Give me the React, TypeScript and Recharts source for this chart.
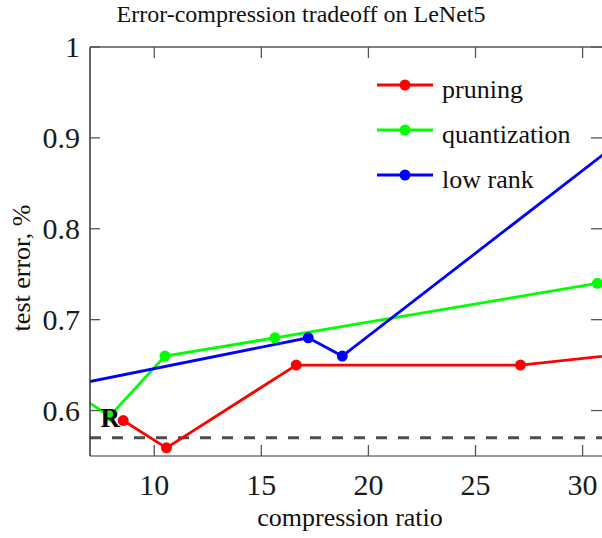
import React from 'react';
import { LineChart, Line, XAxis, YAxis, ReferenceLine, ReferenceDot, Legend } from 'recharts';

// ---- data ----
const pruningX = [8.55, 10.57, 16.63, 27.1, 35];
const pruningY = [0.589, 0.559, 0.65, 0.65, 0.67];
const quantizationX = [6, 7.93, 10.5, 15.63, 30.69];
const quantizationY = [0.623, 0.594, 0.66, 0.68, 0.74];
const lowRankX = [5, 17.19, 18.78, 35];
const lowRankY = [0.6226, 0.68, 0.66, 0.955];
const xTicks = [10, 15, 20, 25, 30];
const yTicks = [0.6, 0.7, 0.8, 0.9, 1];
const referenceError = 0.57;
const referencePoint = { x: 7.94, y: 0.592, label: 'R' };
const seriesNames = ['pruning', 'quantization', 'low rank'];
const seriesColors = ['#ff0000', '#00ff00', '#0000ff'];

const zip = (xs: number[], ys: number[]) => xs.map((x, i) => ({ x, y: ys[i] }));
const seriesData = [zip(pruningX, pruningY), zip(quantizationX, quantizationY), zip(lowRankX, lowRankY)];
const series = seriesNames.map((name, i) => ({ name, color: seriesColors[i], data: seriesData[i] }));

// ---- layout ----
const FONT = '"Liberation Serif", "Times New Roman", serif';
const W = 620;
const H = 538;
const PLOT_LEFT = 90;
const PLOT_TOP = 47;
const PLOT_RIGHT = 604;
const PLOT_BOTTOM = 456;

const XTick = (props: any) => {
  const { x, payload } = props;
  return (
    <g>
      <line x1={x} x2={x} y1={PLOT_BOTTOM} y2={PLOT_BOTTOM - 11} stroke="#555" strokeWidth={1.3} />
      <line x1={x} x2={x} y1={PLOT_TOP} y2={PLOT_TOP + 11} stroke="#555" strokeWidth={1.3} />
      <text
        x={x}
        y={PLOT_BOTTOM + 39}
        textAnchor="middle"
        fontSize={30}
        fontFamily={FONT}
        style={{ fontFamily: FONT }}
        fill="#1a1a1a"
      >
        {payload.value}
      </text>
    </g>
  );
};

const YTick = (props: any) => {
  const { y, payload } = props;
  const v = payload.value;
  return (
    <g>
      <line x1={PLOT_LEFT} x2={PLOT_LEFT + 10} y1={y} y2={y} stroke="#555" strokeWidth={1.3} />
      <line x1={PLOT_RIGHT - 13} x2={PLOT_RIGHT} y1={y} y2={y} stroke="#555" strokeWidth={1.3} />
      <text
        x={PLOT_LEFT - 10}
        y={y + 10}
        textAnchor="end"
        fontSize={30}
        fontFamily={FONT}
        style={{ fontFamily: FONT }}
        fill="#1a1a1a"
      >
        {v === 1 ? '1' : v.toFixed(1)}
      </text>
    </g>
  );
};

const XLabel = () => (
  <text x={350} y={526} textAnchor="middle" fontSize={26} fontFamily={FONT} style={{ fontFamily: FONT }} fill="#111">
    compression ratio
  </text>
);

const YLabel = () => (
  <text
    x={0}
    y={0}
    transform="translate(30 268) rotate(-90)"
    textAnchor="middle"
    fontSize={26}
    fontFamily={FONT}
    style={{ fontFamily: FONT }}
    fill="#111"
  >
    test error, %
  </text>
);

const renderLegend = (props: any) => {
  const payload = [...(props.payload || [])].sort(
    (a: any, b: any) => seriesNames.indexOf(a.value) - seriesNames.indexOf(b.value)
  );
  return (
    <div style={{ fontFamily: FONT }}>
      {payload.map((entry: any) => (
        <div key={entry.value} style={{ display: 'flex', alignItems: 'center', height: 45 }}>
          <svg width={56} height={12} style={{ display: 'block' }}>
            <line x1={0} x2={56} y1={6} y2={6} stroke={entry.color} strokeWidth={2.8} />
            <circle cx={28} cy={6} r={5.5} fill={entry.color} />
          </svg>
          <span
            style={{
              marginLeft: 9,
              fontSize: 26,
              lineHeight: '45px',
              color: '#111',
              position: 'relative',
              top: 5,
            }}
          >
            {entry.value}
          </span>
        </div>
      ))}
    </div>
  );
};

export default function App() {
  return (
    <div
      style={{
        position: 'fixed',
        left: 0,
        top: 0,
        width: 602,
        height: 538,
        overflow: 'hidden',
        background: '#fff',
        fontFamily: FONT,
      }}
    >
      <div
        style={{
          position: 'absolute',
          left: 0,
          width: 602,
          top: 1,
          textAlign: 'center',
          fontFamily: FONT,
          fontSize: 24,
          lineHeight: '27px',
          color: '#111',
          zIndex: 2,
        }}
      >
        Error-compression tradeoff on LeNet5
      </div>
      <LineChart
        width={W}
        height={H}
        margin={{ top: PLOT_TOP, right: W - PLOT_RIGHT, bottom: 0, left: 0 }}
      >
        <XAxis
          dataKey="x"
          type="number"
          domain={[7, 31]}
          allowDataOverflow
          ticks={xTicks}
          interval={0}
          height={H - PLOT_BOTTOM}
          axisLine={{ stroke: '#999', strokeWidth: 2 }}
          tickLine={false}
          tick={<XTick />}
          label={<XLabel />}
        />
        <YAxis
          type="number"
          domain={[0.55, 1]}
          allowDataOverflow
          ticks={yTicks}
          interval={0}
          width={PLOT_LEFT}
          axisLine={{ stroke: '#333', strokeWidth: 1.5 }}
          tickLine={false}
          tick={<YTick />}
          label={<YLabel />}
        />
        <ReferenceLine y={1} stroke="#555" strokeWidth={1.3} />
        <ReferenceLine
          y={referenceError}
          stroke="#4d4d4d"
          strokeWidth={3}
          strokeDasharray="11 11"
        />
        {series.map((s) => (
          <Line
            key={s.name}
            name={s.name}
            data={s.data}
            dataKey="y"
            type="linear"
            stroke={s.color}
            strokeWidth={2.8}
            dot={{ r: 5.5, fill: s.color, stroke: s.color, strokeWidth: 0 }}
            activeDot={false}
            isAnimationActive={false}
          />
        ))}
        <ReferenceDot
          x={referencePoint.x}
          y={referencePoint.y}
          r={0}
          fill="none"
          stroke="none"
          label={{
            value: referencePoint.label,
            position: 'center',
            fontSize: 27,
            fontWeight: 'bold',
            fill: '#000',
            fontFamily: FONT,
          }}
        />
        <Legend
          layout="vertical"
          align="center"
          verticalAlign="middle"
          content={renderLegend}
          wrapperStyle={{ left: 377, top: 62, width: 220, height: 140 }}
        />
      </LineChart>
    </div>
  );
}
